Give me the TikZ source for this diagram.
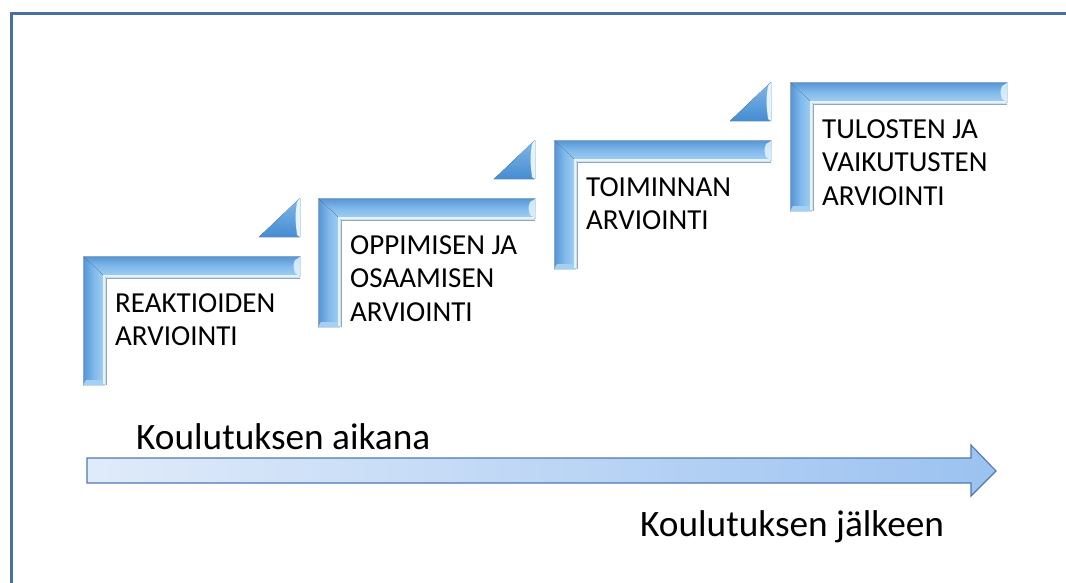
\documentclass[tikz,border=0pt]{standalone}
\usepackage{fontspec}
\setmainfont{Carlito}
\definecolor{frameblue}{RGB}{74,112,160}
\definecolor{barout}{RGB}{84,148,212}
\definecolor{barmid}{RGB}{130,186,236}
\definecolor{barin}{RGB}{164,208,244}
\definecolor{barhi}{RGB}{226,245,255}
\definecolor{baredge}{RGB}{140,168,196}
\definecolor{wedgetop}{RGB}{128,184,236}
\definecolor{wedgebot}{RGB}{70,140,208}
\definecolor{arrowL}{RGB}{224,235,250}
\definecolor{arrowR}{RGB}{155,194,240}
\definecolor{arrowline}{RGB}{80,120,175}

\tikzset{
  steptext/.style={anchor=north west, inner sep=0pt, align=left,
    font=\fontsize{29}{33.5}\selectfont},
  bigtext/.style={anchor=base west, inner sep=0pt,
    font=\fontsize{37.3}{42}\selectfont},
  inneredge/.style={draw=barhi, line width=2pt},
  outeredge/.style={draw=baredge, line width=0.6pt},
}

% one bevelled L-shaped step: top-left corner (#1,#2), label node #3 with text #4
\newcommand\stairbar[4]{%
\begin{scope}[shift={(#1,#2)}]
  \fill[top color=barout, bottom color=barin, middle color=barmid]
    (0,0) -- (217,0) -- (217,21) -- (22,21) -- cycle;
  \fill[left color=barout, right color=barin, middle color=barmid]
    (0,0) -- (22,21) -- (22,129) -- (0,129) -- cycle;
  % bevelled ends
  \fill[barhi, opacity=0.85]
    (217,1) -- (212,4) .. controls (210,10) .. (212,17) -- (217,20) -- cycle;
  \fill[barin]
    (0,129) -- (3,124) -- (19,124) -- (22,129) -- cycle;
  % highlight along the inner edges
  \draw[inneredge] (216,20) -- (21,20) -- (21,128);
  \draw[outeredge] (217,22) -- (23,22) -- (23,129);
  \draw[outeredge] (0,129) -- (0,0) -- (217,0);
  \node[steptext] (#3) at (32,37) {#4};
\end{scope}}

% triangular wedge with its right-angle corner at (#1,#2)
\newcommand\stairwedge[2]{%
\begin{scope}[shift={(#1,#2)}]
  \fill[top color=wedgetop, bottom color=wedgebot]
    (-41,0) -- (0,-39) -- (0,0) -- cycle;
  \fill[barhi]
    (0,-39) -- (-3,-35) .. controls (-5,-20) .. (-3,-2) -- (0,0) -- cycle;
\end{scope}}

\begin{document}
\begin{tikzpicture}[x=1pt, y=-1pt]
  \useasboundingbox (0,0) rectangle (1066,582);
  \fill[white] (0,0) rectangle (1066,582);

  % outer frame, running off the right and bottom edges
  \begin{scope}
    \clip (0,0) rectangle (1066,582);
    \draw[frameblue, line width=3.6pt] (11.5,600) -- (11.5,13.6) -- (1080,13.6);
  \end{scope}

  % steps
  \stairwedge{300}{237}
  \stairwedge{535}{179}
  \stairwedge{771}{121}
  \stairbar{83}{256}{s1}{REAKTIOIDEN\\ARVIOINTI}
  \stairbar{318}{198}{s2}{OPPIMISEN JA\\OSAAMISEN\\ARVIOINTI}
  \stairbar{554}{140}{s3}{TOIMINNAN\\ARVIOINTI}
  \stairbar{790}{82}{s4}{TULOSTEN JA\\VAIKUTUSTEN\\ARVIOINTI}

  % time arrow
  \draw[arrowline, line width=1.1pt, left color=arrowL, right color=arrowR]
    (87,458) -- (971,458) -- (971,445) -- (996,471) -- (971,496)
    -- (971,483) -- (87,483) -- cycle;

  \node[bigtext] (during) at (136,449) {Koulutuksen aikana};
  \node[bigtext] (after) at (640,536) {Koulutuksen jälkeen};
\end{tikzpicture}
\end{document}
